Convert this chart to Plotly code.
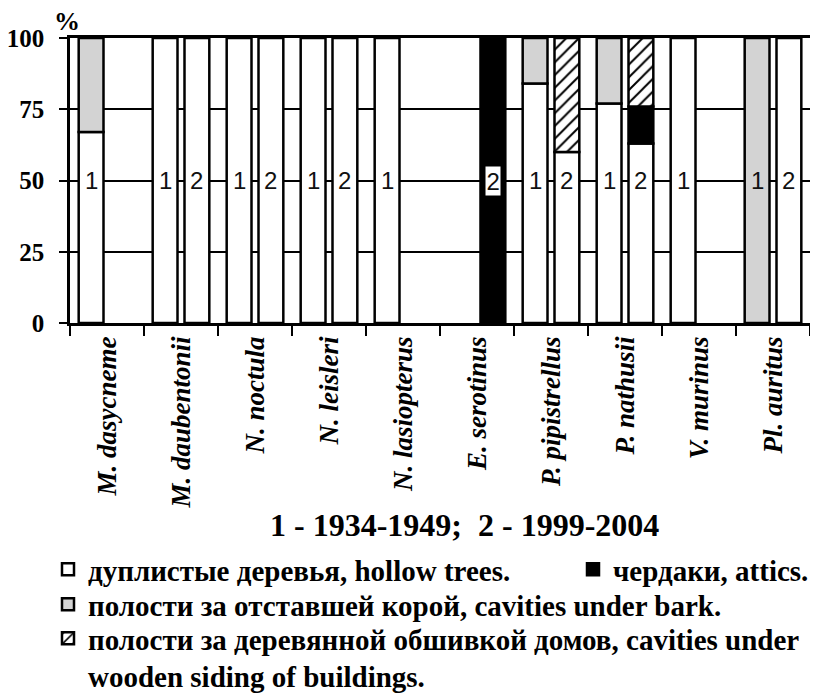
import plotly.graph_objects as go

# ---------------- data ----------------
species = ["M. dasycneme", "M. daubentonii", "N. noctula", "N. leisleri", "N. lasiopterus",
           "E. serotinus", "P. pipistrellus", "P. nathusii", "V. murinus", "Pl. auritus"]

# period 1 : 1934-1949  (percent of roosts)
p1_hollow = [67, 100, 100, 100, 100, None, 84, 77, 100, None]
p1_bark   = [33, None, None, None, None, None, 16, 23, None, 100]
p1_attics = [None, None, None, None, None, None, None, None, None, None]
p1_siding = [None, None, None, None, None, None, None, None, None, None]

# period 2 : 1999-2004
p2_hollow = [None, 100, 100, 100, None, None, 60, 63, None, 100]
p2_bark   = [None, None, None, None, None, None, None, None, None, None]
p2_attics = [None, None, None, None, None, 100, None, 13, None, None]
p2_siding = [None, None, None, None, None, None, 40, 24, None, None]

period_labels = ["1", "2"]
cat_names = ["дуплистые деревья, hollow trees.",
             "полости за отставшей корой, cavities under bark.",
             "чердаки, attics.",
             "полости за деревянной обшивкой домов, cavities under<br>wooden siding of buildings."]
caption = "1 - 1934-1949;\u00a0\u00a02 - 1999-2004"

# ---------------- layout helpers ----------------
W, H = 818, 693
OFF = 8                      # page body margin of the html page
L, R, T, B = 70, 810, 38, 323  # plot area in window pixels
def cx(x):
    return (x - OFF) / W
def cy(y):
    return 1 - (y - OFF) / H
def px_x(x):
    return (x - L) / (R - L)
def px_y(y):
    return (B - y) / (B - T)

BARGAP = 0.14
SERIF = "Liberation Serif"
SANS = "Liberation Sans"

styles = {
    "hollow": dict(color="white"),
    "bark": dict(color="#d3d3d3"),
    "attics": dict(color="black"),
    "siding": dict(color="white", pattern=dict(shape="/", fgcolor="black", bgcolor="white",
                                               size=9, solidity=0.22, fillmode="replace")),
}
legend_of = {"hollow": "legend", "bark": "legend3", "attics": "legend2", "siding": "legend4"}
name_of = {"hollow": cat_names[0], "bark": cat_names[1], "attics": cat_names[2], "siding": cat_names[3]}

periods = [
    {"hollow": p1_hollow, "bark": p1_bark, "attics": p1_attics, "siding": p1_siding},
    {"hollow": p2_hollow, "bark": p2_bark, "attics": p2_attics, "siding": p2_siding},
]
order = ["hollow", "bark", "attics", "siding"]

fig = go.Figure()
for pi, pdata in enumerate(periods):
    base = [0] * len(species)
    for key in order:
        vals = pdata[key]
        bases = [b if v else None for b, v in zip(base, vals)]
        fig.add_trace(go.Bar(
            x=species, y=vals, base=bases,
            offsetgroup=str(pi + 1),
            name=name_of[key],
            legend=legend_of[key],
            showlegend=(pi == 0),
            legendgroup=key,
            marker=dict(line=dict(color="black", width=2.5), **styles[key]),
            hoverinfo="x+y+name",
        ))
        base = [b + (v or 0) for b, v in zip(base, vals)]

# period labels "1" / "2" at 50 %
annotations = []
slot = (1 - BARGAP) / 2
for pi, pdata in enumerate(periods):
    for i, sp in enumerate(species):
        total = sum((pdata[k][i] or 0) for k in order)
        if total <= 0:
            continue
        cum = 0
        seg = None
        for k in order:
            v = pdata[k][i] or 0
            if cum <= 50 < cum + v:
                seg = k
            cum += v
        boxed = seg == "attics"
        annotations.append(dict(
            x=i - slot / 2 + pi * slot, y=50, xref="x", yref="y",
            text=period_labels[pi], showarrow=False,
            font=dict(family=SANS, size=24, color="#111"),
            bgcolor="white" if boxed else "rgba(0,0,0,0)",
            bordercolor="black" if boxed else "rgba(0,0,0,0)",
            borderwidth=1.5 if boxed else 0, borderpad=1,
        ))

annotations.append(dict(x=px_x(67), y=px_y(21), xref="paper", yref="paper",
                        text="%", showarrow=False, xanchor="center", yanchor="middle",
                        font=dict(family=SERIF, size=26, color="black", weight="bold")))
annotations.append(dict(x=px_x(464), y=px_y(525), xref="paper", yref="paper",
                        text=caption, showarrow=False, xanchor="center", yanchor="middle",
                        font=dict(family=SERIF, size=32, color="black", weight="bold")))

legfont = dict(family=SERIF, size=29, color="black", weight="bold")
common = dict(xref="container", yref="container", xanchor="left", yanchor="top",
              font=legfont, bgcolor="rgba(0,0,0,0)", itemwidth=30, borderwidth=0)
fig.update_layout(
    width=W, height=H,
    margin=dict(l=L - OFF, r=W - (R - OFF), t=T - OFF, b=H - (B - OFF), autoexpand=False),
    paper_bgcolor="white", plot_bgcolor="white",
    barmode="group", bargap=BARGAP, bargroupgap=0.22,
    annotations=annotations,
    legend=dict(x=cx(48), y=cy(544), **common),
    legend2=dict(x=cx(573), y=cy(544), **common),
    legend3=dict(x=cx(48), y=cy(579), **common),
    legend4=dict(x=cx(48), y=cy(613), valign="top", **common),
    xaxis=dict(
        type="category", categoryorder="array", categoryarray=species,
        tickson="boundaries", ticks="outside", ticklen=10, tickwidth=2, tickcolor="black",
        tickangle=-90, automargin=False,
        tickfont=dict(family=SERIF, size=27, color="black", weight="bold", style="italic"),
        showline=True, linecolor="black", linewidth=2.5, mirror=True,
        showgrid=False, zeroline=False,
    ),
    yaxis=dict(
        range=[0, 100], tickvals=[0, 25, 50, 75, 100], automargin=False,
        ticks="outside", ticklen=8, tickwidth=2, tickcolor="black",
        tickfont=dict(family=SERIF, size=25, color="black", weight="bold"),
        ticklabelstandoff=10,
        showline=True, linecolor="black", linewidth=2.5, mirror=True,
        showgrid=True, gridcolor="black", gridwidth=2, zeroline=False,
    ),
)

fig.write_html("out.html")
